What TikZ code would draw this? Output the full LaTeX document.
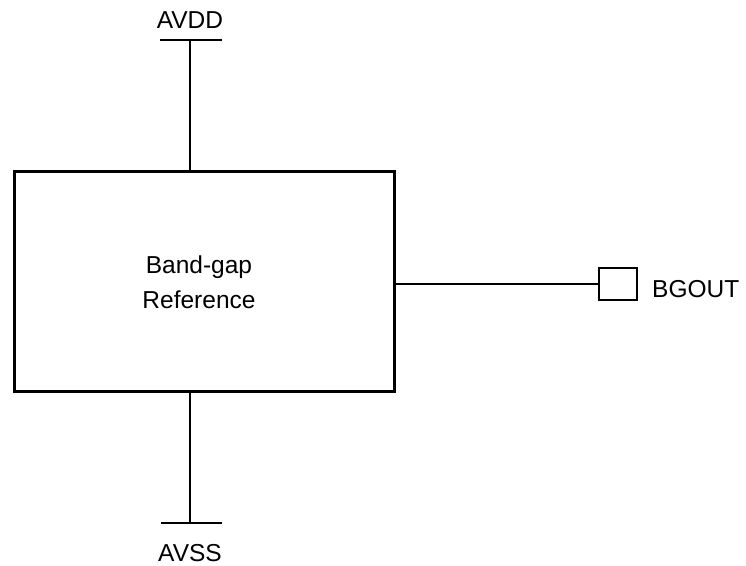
\documentclass[tikz,border=0pt]{standalone}
\usepackage{fontspec}
\setmainfont{Liberation Sans}
\begin{document}
\begin{tikzpicture}[x=1pt,y=-1pt,
  lbl/.style={font=\fontsize{24.5}{28}\selectfont, inner sep=0pt},
  wire/.style={line width=2pt},
  boxline/.style={line width=2.6pt}]
\useasboundingbox (0,0) rectangle (746,565);
% main block
\node[draw, boxline, minimum width=380pt, minimum height=220pt, inner sep=0pt, anchor=north west] (bg) at (13,170) {};
\node[lbl, anchor=base] (t1) at (199,273) {Band-gap};
\node[lbl, anchor=base] (t2) at (199,308) {Reference};
% AVDD
\coordinate (vddt) at (190,40);
\coordinate (vddl) at (160,40);
\coordinate (vddr) at (222,40);
\draw[wire] (vddt) -- (bg.north -| vddt);
\draw[wire] (vddl) -- (vddr);
\node[lbl, anchor=base] (avdd) at (190,28) {AVDD};
% AVSS
\coordinate (vssb) at (190,523);
\coordinate (vssl) at (161,523);
\coordinate (vssr) at (222,523);
\draw[wire] (bg.south -| vssb) -- (vssb);
\draw[wire] (vssl) -- (vssr);
\node[lbl, anchor=base] (avss) at (190,561) {AVSS};
% output pin
\node[draw, wire, minimum width=38pt, minimum height=32pt, inner sep=0pt, anchor=west] (pin) at (598,284) {};
\draw[wire] (bg.east |- pin.west) -- (pin.west);
\coordinate (sa) at (498,284);
\coordinate (sb) at (547,284);
\draw[line width=2.6pt] (sa) -- (sb);
\node[lbl, anchor=base west] (bgout) at (652,297) {BGOUT};
\end{tikzpicture}
\end{document}
